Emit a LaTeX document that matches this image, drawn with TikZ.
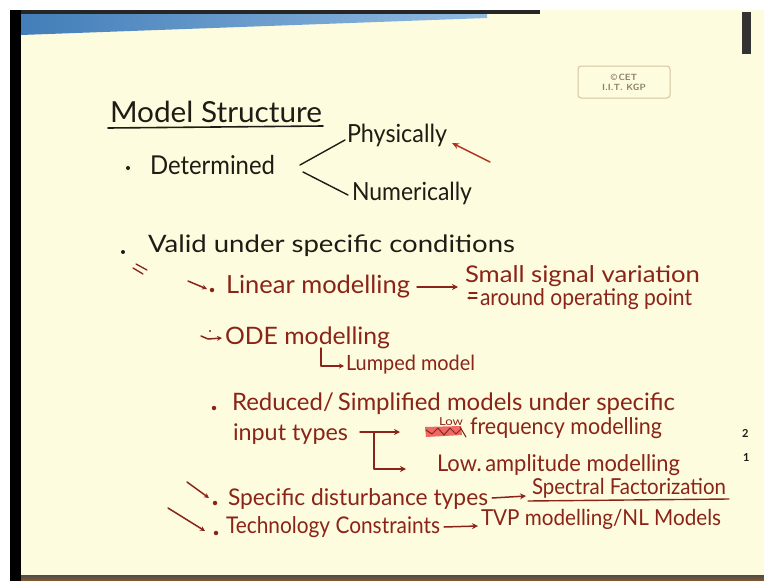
\documentclass[tikz,border=0pt]{standalone}
\usepackage{fontspec}
\setmainfont{Lato}
\usepackage{graphicx}
\usetikzlibrary{arrows.meta}
\definecolor{paper}{RGB}{254,252,222}
\definecolor{ink}{RGB}{32,27,20}
\definecolor{redink}{RGB}{138,36,24}
\definecolor{brightred}{RGB}{176,48,34}
\definecolor{scrib}{RGB}{236,90,90}
\definecolor{barblue}{RGB}{74,140,205}
\definecolor{stampc}{RGB}{214,196,160}
\definecolor{stampt}{RGB}{140,128,110}
% squeeze a text to a given width, keeping its height
\newcommand{\fitw}[2]{\resizebox{#1pt}{\height}{#2}}
\begin{document}
\begin{tikzpicture}[x=1pt,y=-1pt,
  txt/.style={anchor=base west,inner sep=0pt,outer sep=0pt,text=ink},
  hand/.style={txt,text=redink},
  pen/.style={draw=ink,line width=1.4pt,line cap=round,line join=round},
  rpen/.style={draw=redink,line width=1.5pt,line cap=round,line join=round},
  rarrow/.style={rpen,-{Stealth[length=6pt,width=6pt]}},
  bul/.style={circle,fill=#1,inner sep=0pt,minimum size=4.5pt}]
% paper and frame
\useasboundingbox (0,0) rectangle (764,581);
\fill[white] (0,0) rectangle (764,581);
\fill[paper] (21,10) rectangle (764,575);
\fill[black] (10,10) rectangle (21,581);
\fill[black!85] (21,10) rectangle (540,14);
\shade[left color=barblue!90!black,right color=barblue!60!white] (21,14) -- (487,14) -- (487,18) -- (21,35) -- cycle;
\fill[black!80] (742,12) rectangle (751,54);
\shade[top color=black!70,bottom color=brown!70!black] (21,575) rectangle (764,581);

% stamp
\node[draw=stampc,line width=1pt,rounded corners=3pt,minimum width=92pt,minimum height=32pt,inner sep=0pt]
  (stamp) at (624,82) {};
\node[text=stampt,font=\sffamily\bfseries\fontsize{9}{10}\selectfont,align=center,inner sep=0pt]
  (stamptext) at (stamp.center) {\textcopyright\,CET\\I.I.T. KGP};

% heading
\node[txt,font=\fontsize{29}{32}\selectfont] (title) at (110,122) {\fitw{212}{Model Structure}};
\draw[pen,line width=1.6pt] ([shift={(-2,6)}]title.base west) -- ([shift={(1,4)}]title.base east);

% determined branch
\node[bul=ink,minimum size=4pt] (b1) at (128,168) {};
\node[txt,font=\fontsize{26}{30}\selectfont] (det) at (150,174) {\fitw{125}{Determined}};
\node[txt,font=\fontsize{25}{30}\selectfont] (phys) at (347,142) {\fitw{100}{Physically}};
\node[txt,font=\fontsize{25}{30}\selectfont] (num) at (352,200) {\fitw{120}{Numerically}};
\coordinate (fork1) at (300,165);
\coordinate (fork2) at (303,172);
\draw[pen] (fork1) -- ([shift={(-2,-2)}]phys.base west);
\draw[pen] (fork2) -- ([shift={(-4,-5)}]num.base west);
\coordinate (ptail) at (490,162);
\draw[draw=brightred,line width=1.4pt,line cap=round,-{Stealth[length=7pt,width=6pt]}]
  (ptail) -- ([shift={(5,1)}]phys.base east);

% valid under specific conditions
\node[bul=ink,minimum size=4pt] (b2) at (123,252) {};
\node[txt,font=\fontsize{24}{28}\selectfont] (valid) at (148,252) {\fitw{367}{Valid under specific conditions}};
\draw[rpen,line width=1.3pt] (133,268) -- (143,274);
\draw[rpen,line width=1.3pt] (136,264) -- (147,270);

% linear modelling
\draw[rarrow,-{Stealth[length=5pt,width=5pt]}] (188,281) -- (207,289);
\node[bul=redink] (b3) at (212,290) {};
\node[hand,font=\fontsize{25}{30}\selectfont] (lin) at (226,293) {\fitw{184}{Linear modelling}};
\node[hand,font=\fontsize{23}{28}\selectfont] (small) at (465,282) {\fitw{235}{Small signal variation}};
\node[hand,font=\fontsize{23}{28}\selectfont] (around) at (480,305) {\fitw{212}{around operating point}};
\draw[rarrow] ([shift={(7,-6)}]lin.base east) -- ([shift={(-7,5)}]small.base west);
\draw[rpen,line width=1.1pt] (469,293) -- (477,293);
\draw[rpen,line width=1.1pt,-{Stealth[length=3pt,width=3pt]}] (477,298) -- (467,298);

% ODE modelling
\draw[rarrow,-{Stealth[length=5pt,width=5pt]}] (201,336) -- (208,339) -- (222,338);
\fill[redink] (210,331) circle (1.2pt);
\node[hand,font=\fontsize{24}{28}\selectfont] (ode) at (225,344) {\fitw{165}{ODE modelling}};
\node[hand,font=\fontsize{21}{26}\selectfont] (lump) at (346,370) {\fitw{129}{Lumped model}};
\coordinate (lumpcorner) at (321,366);
\draw[rpen,-{Stealth[length=5pt,width=5pt]}] (321,348) -- (lumpcorner) -- ([shift={(-2,-4)}]lump.base west);

% reduced models
\node[bul=redink] (b4) at (214,408) {};
\node[hand,font=\fontsize{24}{28}\selectfont] (red) at (232,410) {\fitw{443}{Reduced/\,Simplified models under specific}};
\node[hand,font=\fontsize{23}{28}\selectfont] (inp) at (233,440) {\fitw{115}{input types}};
\node[hand,font=\fontsize{11}{13}\selectfont] (low1) at (439,425) {\fitw{24}{Low}};
\node[hand,font=\fontsize{23}{28}\selectfont] (freq) at (470,434) {\fitw{192}{frequency modelling}};
\node[hand,font=\fontsize{23}{28}\selectfont] (low2) at (437,471) {\fitw{243}{Low.\,amplitude modelling}};
\coordinate (split) at (374,432);
\draw[rarrow] ([shift={(12,-8)}]inp.base east) -- (400,432);
\draw[rarrow] (split) -- (374,469) -- (406,469);
% struck-out word
\fill[scrib,opacity=0.9] (425,427) -- (461,426) -- (462,435) -- (426,437) -- cycle;
\draw[rpen,line width=1pt] (426,430) -- (432,434) -- (438,428) -- (444,435) -- (450,428) -- (456,434) -- (461,429);
\draw[rpen,line width=1.1pt] (460,427) -- (466,437);

% disturbance and technology
\draw[rarrow,-{Stealth[length=5pt,width=5pt]}] (187,482) -- (209,498);
\node[bul=redink] (b5) at (215,503) {};
\node[hand,font=\fontsize{23}{28}\selectfont] (dist) at (228,505) {\fitw{260}{Specific disturbance types}};
\node[hand,font=\fontsize{22}{26}\selectfont] (spec) at (532,494) {\fitw{194}{Spectral Factorization}};
\draw[rpen,line width=1.4pt] ([shift={(-4,7)}]spec.base west) -- ([shift={(3,5)}]spec.base east);
\draw[rarrow] ([shift={(4,-7)}]dist.base east) -- ([shift={(-6,2)}]spec.base west);

\draw[rarrow,-{Stealth[length=5pt,width=5pt]}] (168,508) -- (205,531);
\node[bul=redink] (b6) at (216,533) {};
\node[hand,font=\fontsize{23}{28}\selectfont] (tech) at (226,533) {\fitw{214}{Technology Constraints}};
\node[hand,font=\fontsize{22}{26}\selectfont] (tvp) at (481,525) {\fitw{240}{TVP modelling/NL Models}};
\draw[rarrow] ([shift={(4,-6)}]tech.base east) -- ([shift={(-3,1)}]tvp.base west);

% margin marks
\node[txt,font=\bfseries\fontsize{11}{12}\selectfont] (m2) at (742,437) {2};
\node[txt,font=\bfseries\fontsize{11}{12}\selectfont] (m1) at (743,461) {1};
\end{tikzpicture}
\end{document}
